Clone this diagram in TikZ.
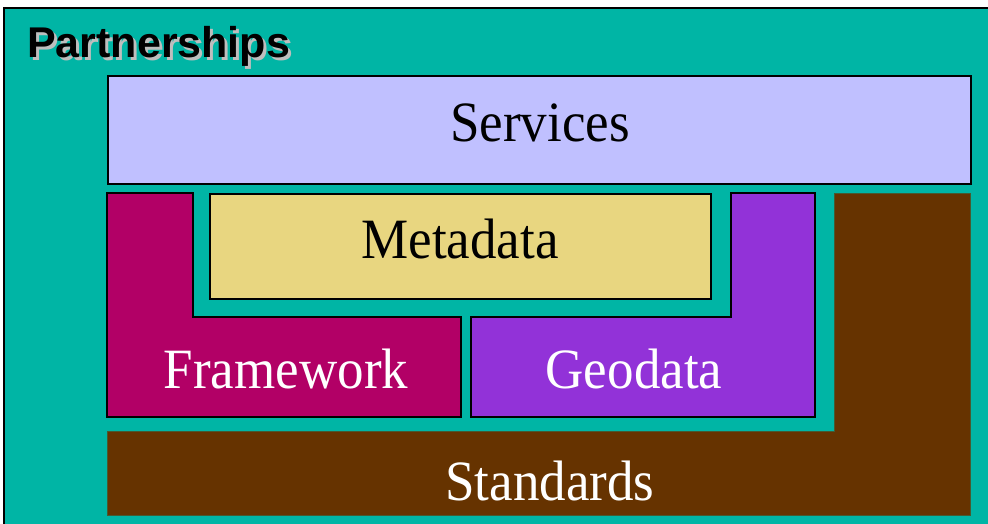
\documentclass[tikz,border=0pt]{standalone}
\usepackage{fontspec}
\setmainfont{Liberation Serif}
\newfontfamily\headfont{Liberation Sans}
\definecolor{teal1}{RGB}{0,181,165}
\definecolor{servicesfill}{RGB}{192,192,255}
\definecolor{metafill}{RGB}{232,214,128}
\definecolor{framefill}{RGB}{178,0,102}
\definecolor{geofill}{RGB}{146,50,216}
\definecolor{stdfill}{RGB}{102,51,0}
\definecolor{shadowgray}{RGB}{190,190,190}
\tikzset{
  x=1pt, y=-1pt,
  layer/.style={draw=black, line width=2pt, line join=miter},
  flatlayer/.style={draw=stdfill!70!teal1, line width=0.6pt},
  biglabel/.style={anchor=base, inner sep=0pt, xscale=0.93,
    font=\fontsize{57}{62}\selectfont},
}
% text with a light grey drop shadow offset down and to the right
\newcommand{\shadowtext}[1]{%
  \rlap{\hspace{3pt}\raisebox{-3pt}{\textcolor{shadowgray}{#1}}}#1}
\begin{document}
\begin{tikzpicture}
\useasboundingbox (0,0) rectangle (988,523);
\fill[white] (0,0) rectangle (988,523);
\clip (0,0) rectangle (988,523);

% outer partnerships frame, running off the right and bottom edges
\path[fill=teal1, draw=black, line width=2pt] (4,8) rectangle (1000,540);

% title
\node (title) [anchor=base west, inner sep=0pt, text=black,
      font=\headfont\bfseries\fontsize{43}{48}\selectfont] at (27,57)
      {\shadowtext{Partnerships}};

% services
\path[layer, fill=servicesfill] (108,76) rectangle (971,184);
\node (services) [biglabel, text=black] at (540,141) {Services};

% framework (L shape)
\path[layer, fill=framefill] (107,193) -- (193,193) -- (193,317) -- (461,317)
  -- (461,417) -- (107,417) -- cycle;
\node (framework) [biglabel, text=white] at (286,388) {Framework};

% geodata (mirrored L shape)
\path[layer, fill=geofill] (471,317) -- (731,317) -- (731,193) -- (815,193)
  -- (815,417) -- (471,417) -- cycle;
\node (geodata) [biglabel, text=white] at (634,388) {Geodata};

% metadata
\path[layer, fill=metafill] (210,194) rectangle (711,299);
\node (metadata) [biglabel, text=black] at (460,258) {Metadata};

% standards (L shape along bottom and right)
\path[flatlayer, fill=stdfill] (834,193) -- (970,193) -- (970,515) -- (107,515)
  -- (107,431) -- (834,431) -- cycle;
\node (standards) [biglabel, text=white] at (550,500) {Standards};
\end{tikzpicture}
\end{document}
